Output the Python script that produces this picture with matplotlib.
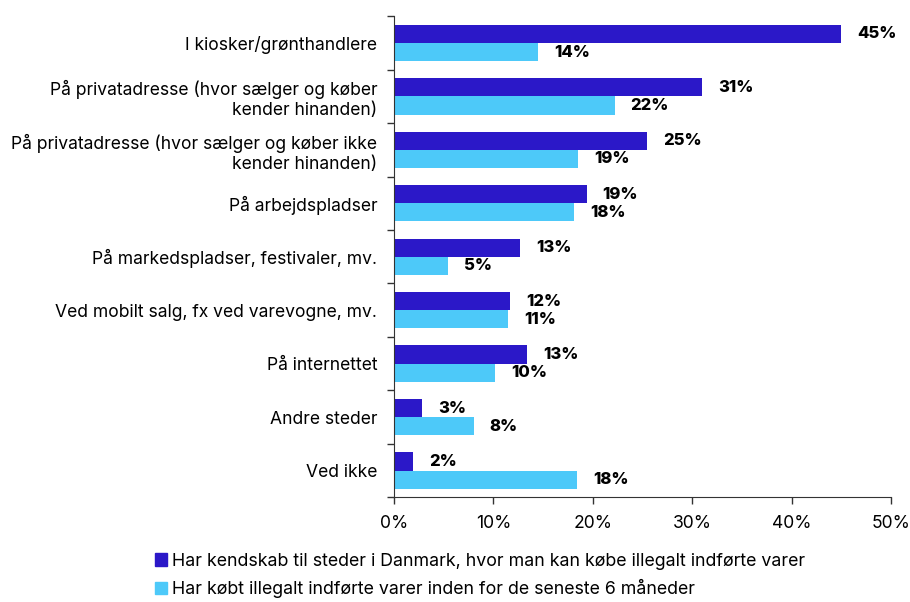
import numpy as np
import matplotlib.pyplot as plt
import matplotlib.patches as mpatches

plt.rcParams['font.family'] = ['Inter', 'DejaVu Sans']

categories = [
    'I kiosker/grønthandlere',
    'På privatadresse (hvor sælger og køber\nkender hinanden)',
    'På privatadresse (hvor sælger og køber ikke\nkender hinanden)',
    'På arbejdspladser',
    'På markedspladser, festivaler, mv.',
    'Ved mobilt salg, fx ved varevogne, mv.',
    'På internettet',
    'Andre steder',
    'Ved ikke',
]
known = [45.0, 31.0, 25.5, 19.4, 12.7, 11.7, 13.4, 2.8, 1.9]
known_labels = ['45%', '31%', '25%', '19%', '13%', '12%', '13%', '3%', '2%']
bought = [14.5, 22.2, 18.5, 18.1, 5.4, 11.5, 10.2, 8.0, 18.4]
bought_labels = ['14%', '22%', '19%', '18%', '5%', '11%', '10%', '8%', '18%']
legend_labels = [
    'Har kendskab til steder i Danmark, hvor man kan købe illegalt indførte varer',
    'Har købt illegalt indførte varer inden for de seneste 6 måneder',
]

DARK = '#2B18C8'
LIGHT = '#4DC9F9'

fig = plt.figure(figsize=(9.1, 6.02), dpi=100)
ax = fig.add_axes([0.433, 0.174, 0.546, 0.799])

n = len(categories)
y = np.arange(n)
h = 0.34

ax.barh(y - h / 2, known, height=h, color=DARK)
ax.barh(y + h / 2, bought, height=h, color=LIGHT)

for i in range(n):
    ax.text(known[i] + 1.6, y[i] - h / 2, known_labels[i], va='center', ha='left',
            fontsize=12, fontweight='heavy', color='black')
    ax.text(bought[i] + 1.6, y[i] + h / 2, bought_labels[i], va='center', ha='left',
            fontsize=12, fontweight='heavy', color='black')

ax.set_xlim(0, 50)
ax.set_ylim(n - 0.5, -0.5)
ax.set_xticks(np.arange(0, 51, 10))
ax.set_xticklabels([f'{v}%' for v in range(0, 51, 10)])
ax.set_yticks(y)
ax.set_yticklabels(categories, fontsize=12.6)
ax.set_yticks(np.arange(-0.5, n, 1), minor=True)

ax.tick_params(axis='y', which='major', length=0, pad=12)
ax.tick_params(axis='y', which='minor', length=5, width=1, color='#333333')
ax.tick_params(axis='x', length=5, width=1, color='#333333', labelsize=12.6, pad=8)
for lbl in ax.get_yticklabels():
    lbl.set_horizontalalignment('right')
    lbl.set_multialignment('right')

for s in ['top', 'right']:
    ax.spines[s].set_visible(False)
for s in ['left', 'bottom']:
    ax.spines[s].set_color('#333333')

handles = [mpatches.Patch(color=DARK, label=legend_labels[0]),
           mpatches.Patch(color=LIGHT, label=legend_labels[1])]
fig.legend(handles=handles, loc='upper left', bbox_to_anchor=(0.162, 0.094),
           frameon=False, fontsize=12.8, handlelength=0.7, handleheight=0.7,
           handletextpad=0.3, labelspacing=0.55, borderaxespad=0)

fig.savefig('out.png', dpi=100)
